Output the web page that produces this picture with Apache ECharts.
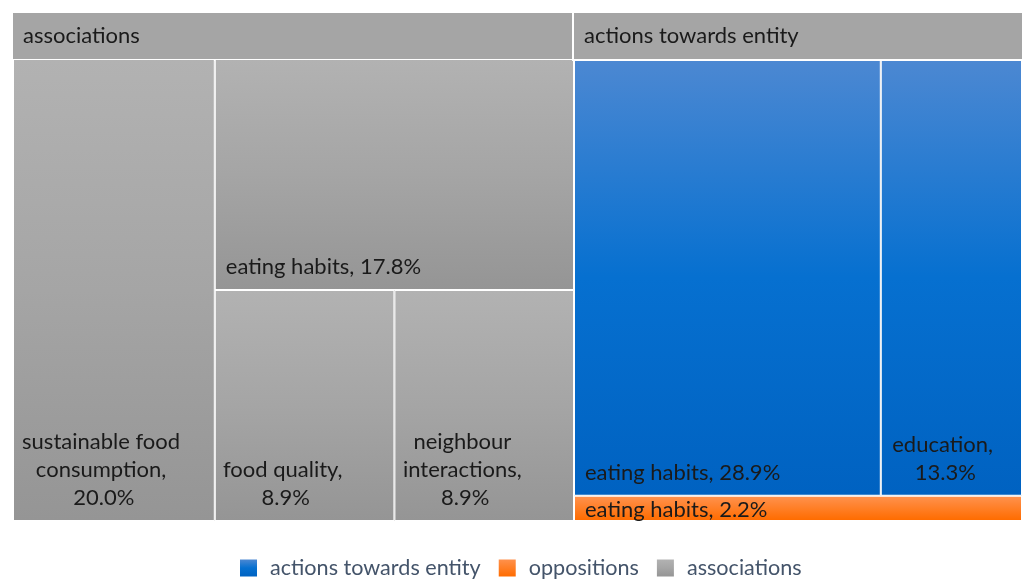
<!DOCTYPE html>
<html>
<head>
<meta charset="utf-8">
<script src="https://cdn.jsdelivr.net/npm/echarts@6/dist/echarts.min.js"></script>
<style>
  html, body { margin: 0; padding: 0; background: #fff; }
  #chart { width: 1023px; height: 579px; }
</style>
</head>
<body>
<div id="chart"></div>
<script>
// data (share of all codes, %)
const groupNames = ['associations', 'actions towards entity', 'oppositions']
const legendOrder = ['actions towards entity', 'oppositions', 'associations']

// equal values: treemap puts the later one first, so neighbour comes before food quality here
const associationNames = ['sustainable food consumption', 'eating habits', 'neighbour interactions', 'food quality']
const associationValues = [20.0, 17.8, 8.9, 8.9]

const actionNames = ['eating habits', 'education']
const actionValues = [28.9, 13.3]

const oppositionNames = ['eating habits']
const oppositionValues = [2.2]

const FONT = 'Lato'

const grad = (stops) => new echarts.graphic.LinearGradient(0, 0, 0, 1,
  stops.map(([offset, color]) => ({ offset, color })))

const groupColor = {
  'associations': () => grad([[0, '#b2b2b2'], [0.5, '#a5a5a5'], [1, '#959595']]),
  'actions towards entity': () => grad([[0, '#4c88d2'], [0.5, '#0670d0'], [1, '#0062c1']]),
  'oppositions': () => grad([[0, '#ff914c'], [1, '#ff6c00']])
}

// Excel puts wrapped labels in a left-anchored block with centred lines
const centred = (dx) => ({ position: 'insideBottom', align: 'center', offset: [dx, 0] })
const labelTweaks = {
  'associations/sustainable food consumption': centred(-10),
  'associations/food quality': centred(-19),
  'associations/neighbour interactions': centred(-19),
  'actions towards entity/education': centred(-6),
  'oppositions/eating habits': { lineHeight: 22, padding: [0, 10, 0, 10], offset: [0, 1] }
}

const leaves = (group, names, values) => names.map((name, i) => {
  const item = { name, value: values[i] }
  const tweak = labelTweaks[group + '/' + name]
  if (tweak) item.label = tweak
  return item
})

const treeData = [
  { name: groupNames[0], itemStyle: { color: groupColor[groupNames[0]]() },
    children: leaves(groupNames[0], associationNames, associationValues) },
  { name: groupNames[1], itemStyle: { color: groupColor[groupNames[1]]() },
    children: leaves(groupNames[1], actionNames, actionValues) },
  { name: groupNames[2], itemStyle: { color: groupColor[groupNames[2]]() },
    upperLabel: { show: false },
    children: leaves(groupNames[2], oppositionNames, oppositionValues) }
]

const chart = echarts.init(document.getElementById('chart'))

chart.setOption({
  animation: false,
  backgroundColor: '#fff',
  legend: {
    data: legendOrder,
    left: 240,
    top: 557,
    padding: 0,
    icon: 'rect',
    itemWidth: 17,
    itemHeight: 17,
    itemGap: 18,
    selectedMode: false,
    textStyle: { color: '#44546a', fontFamily: FONT, fontSize: 21.6, padding: [0, 0, 0, 8] }
  },
  // hidden grid only so the legend has series to point at
  grid: { left: 0, top: 0, width: 1, height: 1, show: false },
  xAxis: { type: 'category', show: false },
  yAxis: { type: 'value', show: false },
  series: [
    ...legendOrder.map(name => ({
      type: 'bar', name, data: [],
      itemStyle: { color: groupColor[name]() }
    })),
    {
      type: 'treemap',
      name: 'codes',
      left: 13, top: 13, width: 1009, height: 508,
      roam: false,
      nodeClick: false,
      breadcrumb: { show: false },
      squareRatio: 0.7,
      sort: 'desc',
      label: {
        show: true,
        position: 'insideBottomLeft',
        color: '#1a1a1a',
        fontFamily: FONT,
        fontSize: 22,
        lineHeight: 28,
        padding: [0, 10, 8, 10],
        overflow: 'break',
        formatter: p => p.name + ', ' + Number(p.value).toFixed(1) + '%'
      },
      levels: [
        { itemStyle: { borderWidth: 0, gapWidth: 0, borderColor: '#fff' }, upperLabel: { show: false } },
        {
          itemStyle: { borderWidth: 0, gapWidth: 0, borderColor: '#a5a5a5' },
          upperLabel: {
            show: true,
            height: 46,
            formatter: '{b}',
            color: '#1a1a1a',
            fontFamily: FONT,
            fontSize: 22,
            padding: [2, 0, 0, 10],
            backgroundColor: '#a5a5a5',
            borderColor: '#fff',
            borderWidth: 2,
            verticalAlign: 'middle'
          }
        },
        { itemStyle: { borderWidth: 1, borderColor: '#fff', gapWidth: 0 } }
      ],
      data: treeData
    }
  ]
})
</script>
</body>
</html>
